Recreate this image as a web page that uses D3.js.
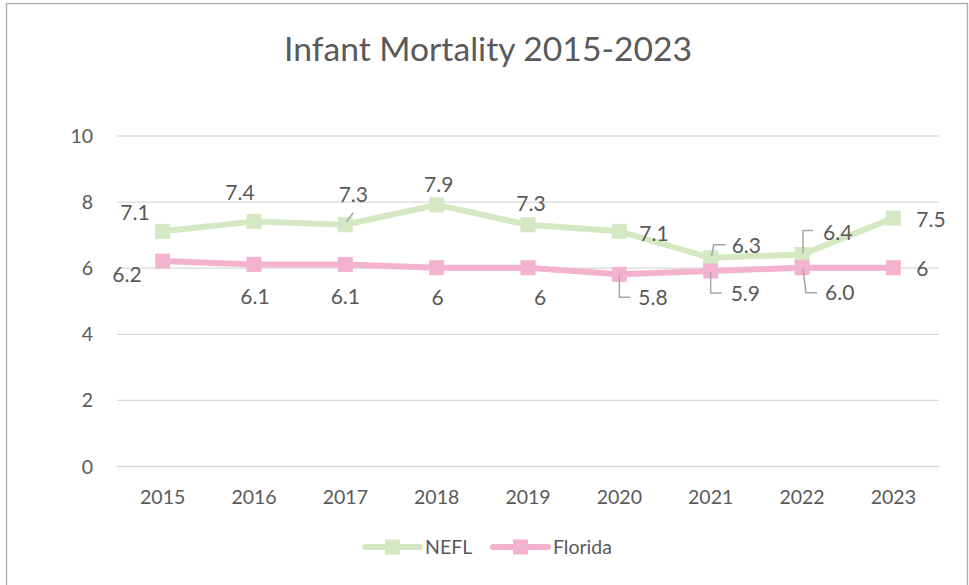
<!DOCTYPE html>
<html>
<head>
<meta charset="utf-8">
<script src="https://cdn.jsdelivr.net/npm/d3@7/dist/d3.min.js"></script>
<style>
  html, body { margin: 0; padding: 0; background: #fff; }
  svg { display: block; }
  text { font-family: Lato, "Open Sans", sans-serif; fill: #595959; }
</style>
</head>
<body>
<svg id="chart" width="969" height="585"></svg>
<script>
// ---- data ----
const title = "Infant Mortality 2015-2023";
const years = ["2015","2016","2017","2018","2019","2020","2021","2022","2023"];
const neflValues = [7.1, 7.4, 7.3, 7.9, 7.3, 7.1, 6.3, 6.4, 7.5];
const floridaValues = [6.2, 6.1, 6.1, 6, 6, 5.8, 5.9, 6.0, 6];
const neflLabels = ["7.1","7.4","7.3","7.9","7.3","7.1","6.3","6.4","7.5"];
const floridaLabels = ["6.2","6.1","6.1","6","6","5.8","5.9","6.0","6"];
const yTicks = [0, 2, 4, 6, 8, 10];
const seriesNames = ["NEFL", "Florida"];

// ---- layout / style ----
const colors = { NEFL: "#d5e8c4", Florida: "#f3b3cf" };
const plot = { left: 117, right: 939, top: 135.5, bottom: 466 };

const neflLabelLayout = [
  {anchor:"end", dx:-13, dy:-19},
  {anchor:"middle", dx:-14, dy:-29},
  {anchor:"middle", dx:8, dy:-30, leader:[[1,-3],[8,-12]]},
  {anchor:"middle", dx:2, dy:-20},
  {anchor:"middle", dx:3, dy:-21},
  {anchor:"start", dx:20, dy:2},
  {anchor:"start", dx:21, dy:-12, leader:[[1,-2],[3,-13],[15,-13]]},
  {anchor:"start", dx:21, dy:-22, leader:[[1,-1],[1,-24],[11,-24]]},
  {anchor:"start", dx:23, dy:1}
];
const floridaLabelLayout = [
  {anchor:"end", dx:-21, dy:13},
  {anchor:"middle", dx:1, dy:32},
  {anchor:"middle", dx:0, dy:32},
  {anchor:"middle", dx:1, dy:30},
  {anchor:"middle", dx:12, dy:30},
  {anchor:"start", dx:19, dy:23, leader:[[0,1],[0,23],[11,23]]},
  {anchor:"start", dx:20, dy:22, leader:[[0,1],[0,22],[11,22]]},
  {anchor:"start", dx:23, dy:25, leader:[[1,1],[4,25],[15,25]]},
  {anchor:"start", dx:23, dy:1}
];

const svg = d3.select("#chart");

// border
svg.append("rect")
  .attr("x", 6.5).attr("y", 3.5)
  .attr("width", 961).attr("height", 600)
  .attr("fill", "none").attr("stroke", "#ababab").attr("stroke-width", 1.3);

// title
const t = svg.append("text")
  .attr("x", 488).attr("y", 61)
  .attr("text-anchor", "middle")
  .style("font-weight", 400)
  .style("font-size", "28px")
  .text(title);
const tl = t.node().getComputedTextLength();
t.style("font-size", (28 * 408 / tl).toFixed(2) + "px");

// scales
const x = d3.scaleBand().domain(years).range([plot.left, plot.right]).padding(0);
const cx = d => x(d) + x.bandwidth() / 2;
const y = d3.scaleLinear().domain([0, 10]).range([plot.bottom, plot.top]);

// gridlines + y labels
const yAxis = d3.axisLeft(y).tickValues(yTicks)
  .tickSize(-(plot.right - plot.left)).tickPadding(24).tickFormat(d3.format("d"));
const gy = svg.append("g").attr("transform", `translate(${plot.left},0)`).call(yAxis);
gy.select(".domain").remove();
gy.selectAll(".tick line").attr("stroke", "#d9d9d9").attr("stroke-width", 1.3);
gy.selectAll(".tick text")
  .style("font-family", "Lato, sans-serif").style("font-size", "19.5px")
  .attr("fill", "#595959").attr("dy", "0.36em");

// x labels
const xAxis = d3.axisBottom(x).tickSize(0).tickPadding(0);
const gx = svg.append("g").attr("transform", `translate(0,${plot.bottom})`).call(xAxis);
gx.select(".domain").remove();
gx.selectAll(".tick text")
  .style("font-family", "Lato, sans-serif").style("font-size", "19.5px")
  .attr("fill", "#595959").attr("y", 31).attr("dy", "0.36em");

// series
const series = [
  { name: "NEFL", values: neflValues, labels: neflLabels, layout: neflLabelLayout },
  { name: "Florida", values: floridaValues, labels: floridaLabels, layout: floridaLabelLayout }
];
const line = d3.line().x((d, i) => cx(years[i])).y(d => y(d));
const ms = 15;

series.forEach(s => {
  svg.append("path").datum(s.values)
    .attr("d", line).attr("fill", "none")
    .attr("stroke", colors[s.name]).attr("stroke-width", 6)
    .attr("stroke-linejoin", "round");
  svg.append("g").selectAll("rect").data(s.values).join("rect")
    .attr("x", (d, i) => cx(years[i]) - ms / 2)
    .attr("y", d => y(d) - ms / 2)
    .attr("width", ms).attr("height", ms)
    .attr("fill", colors[s.name]);
});

// labels and leaders
series.forEach(s => {
  s.values.forEach((v, i) => {
    const px = cx(years[i]), py = y(v);
    const L = s.layout[i];
    if (L.leader) {
      svg.append("path")
        .attr("d", d3.line()(L.leader.map(p => [px + p[0], py + p[1]])))
        .attr("fill", "none").attr("stroke", "#a6a6a6").attr("stroke-width", 1.5);
    }
    svg.append("text")
      .attr("x", px + L.dx).attr("y", py + L.dy)
      .attr("dy", "0.36em")
      .attr("text-anchor", L.anchor)
      .style("font-size", "21px")
      .attr("fill", "#404040")
      .text(s.labels[i]);
  });
});

// legend
const legend = [
  { name: "NEFL", x1: 365, x2: 420, tx: 425 },
  { name: "Florida", x1: 493, x2: 548, tx: 553 }
];
const ly = 547;
legend.forEach(l => {
  svg.append("line").attr("x1", l.x1).attr("x2", l.x2).attr("y1", ly).attr("y2", ly)
    .attr("stroke", colors[l.name]).attr("stroke-width", 6).attr("stroke-linecap", "round");
  svg.append("rect").attr("x", (l.x1 + l.x2) / 2 - ms / 2).attr("y", ly - ms / 2)
    .attr("width", ms).attr("height", ms).attr("fill", colors[l.name]);
  svg.append("text").attr("x", l.tx).attr("y", ly).attr("dy", "0.36em")
    .style("font-size", "19.5px").text(l.name);
});
</script>
</body>
</html>
